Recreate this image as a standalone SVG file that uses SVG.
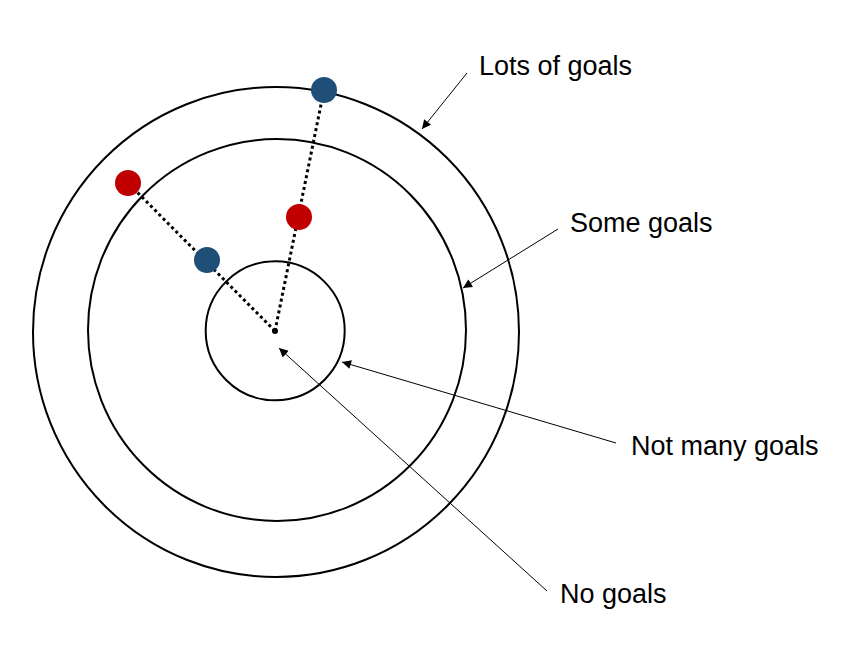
<svg xmlns="http://www.w3.org/2000/svg" width="849" height="657" viewBox="0 0 849 657">
<style>
.ring{fill:none;stroke:#000;stroke-width:2}
.dot-line{fill:none;stroke:#000;stroke-width:3;stroke-dasharray:3 3}
.lead{fill:none;stroke:#000;stroke-width:1;marker-end:url(#ah)}
.lbl{font-family:"Liberation Sans",Arial,sans-serif;font-size:27px;fill:#000}
.red{fill:#c00000}
.blue{fill:#1f4e79}
</style>
<defs>
<marker id="ah" viewBox="0 0 10 10" refX="10" refY="5" markerWidth="11" markerHeight="9" markerUnits="userSpaceOnUse" orient="auto">
<path d="M0,0 L10,5 L0,10 Z" fill="#000"/>
</marker>
</defs>
<rect width="849" height="657" fill="#fff"/>
<g id="rings">
<ellipse id="outer" class="ring" cx="276" cy="332" rx="243" ry="245"/>
<ellipse id="middle" class="ring" cx="277" cy="330" rx="189" ry="191"/>
<circle id="inner" class="ring" cx="275.2" cy="330.8" r="69.5"/>
</g>
<g id="connectors">
<line class="dot-line" x1="275" y1="331" x2="324" y2="90"/>
<line class="dot-line" x1="275" y1="331" x2="128" y2="183"/>
<line class="lead" x1="467" y1="73" x2="422" y2="129"/>
<line class="lead" x1="558" y1="229" x2="463" y2="288"/>
<line class="lead" x1="616" y1="443" x2="342" y2="362"/>
<line class="lead" x1="547" y1="591" x2="279" y2="348"/>
</g>
<g id="center"><circle cx="275" cy="331" r="3" fill="#000"/></g>
<g id="points">
<circle class="blue" cx="324" cy="90" r="13"/>
<circle class="red" cx="299" cy="217" r="13"/>
<circle class="red" cx="128" cy="183" r="13"/>
<circle class="blue" cx="207" cy="260" r="13"/>
</g>
<g id="label-lots"><text class="lbl" x="479" y="75">Lots of goals</text></g>
<g id="label-some"><text class="lbl" x="570" y="232">Some goals</text></g>
<g id="label-notmany"><text class="lbl" x="631" y="455">Not many goals</text></g>
<g id="label-no"><text class="lbl" x="560" y="603">No goals</text></g>
</svg>
